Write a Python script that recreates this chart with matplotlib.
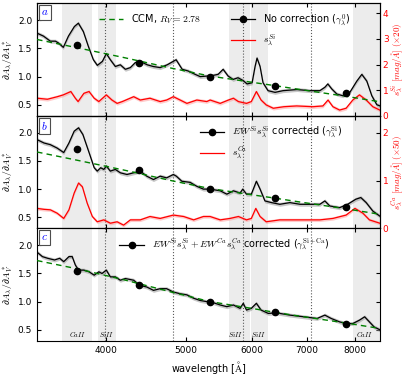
import matplotlib
matplotlib.use('Agg')
import matplotlib.pyplot as plt
from matplotlib.lines import Line2D
from matplotlib.ticker import FixedLocator, NullLocator, FormatStrFormatter

plt.rcParams['mathtext.fontset'] = 'cm'
plt.rcParams['font.family'] = ['DejaVu Sans']

# ---- data (wavelength in Angstrom) ----
wl_a = [3303, 3360, 3425, 3474, 3502, 3551, 3602, 3662, 3703, 3755, 3807, 3861, 3904, 3959,
        4003, 4048, 4105, 4162, 4221, 4280, 4340, 4400, 4486, 4561, 4651, 4743, 4822, 4862,
        4945, 5028, 5127, 5199, 5301, 5345, 5465, 5542, 5620, 5698, 5777, 5859, 5925, 6008,
        6058, 6091, 6143, 6194, 6281, 6405, 6548, 6807, 7058, 7256, 7358, 7419, 7502, 7608,
        7735, 7888, 8043, 8156, 8270, 8386, 8504, 8575]
gamma_a = [1.77, 1.72, 1.63, 1.63, 1.60, 1.52, 1.72, 1.89, 1.95, 1.80, 1.54, 1.30, 1.20, 1.27,
           1.41, 1.30, 1.18, 1.21, 1.13, 1.16, 1.25, 1.27, 1.21, 1.18, 1.16, 1.21, 1.27, 1.30,
           1.13, 1.10, 1.04, 1.00, 1.01, 1.01, 1.04, 1.13, 1.01, 0.95, 0.98, 0.93, 0.87, 0.89,
           1.18, 1.33, 1.18, 0.89, 0.75, 0.72, 0.75, 0.77, 0.75, 0.75, 0.81, 0.87, 0.78, 0.69,
           0.66, 0.72, 0.92, 1.04, 0.92, 0.66, 0.50, 0.48]

wl_sa = [3303, 3397, 3493, 3551, 3626, 3672, 3700, 3760, 3815, 3870, 3920, 4003, 4066, 4125,
         4185, 4320, 4400, 4520, 4651, 4735, 4825, 4917, 5010, 5150, 5295, 5345, 5497, 5625,
         5703, 5783, 5915, 5995, 6080, 6160, 6249, 6373, 6563, 6801, 7117, 7318, 7423, 7525,
         7666, 7806, 7953, 8102, 8256, 8410, 8575]
s_si = [0.69, 0.65, 0.75, 0.82, 0.95, 0.69, 0.56, 0.88, 0.95, 0.69, 0.56, 0.82, 0.62, 0.49,
        0.56, 0.75, 0.62, 0.69, 0.56, 0.62, 0.75, 0.62, 0.49, 0.62, 0.56, 0.62, 0.49, 0.62,
        0.69, 0.56, 0.49, 0.56, 0.95, 0.62, 0.43, 0.30, 0.36, 0.39, 0.36, 0.39, 0.62, 0.36,
        0.23, 0.30, 0.62, 0.82, 0.62, 0.36, 0.23]

wl_b = [3300, 3365, 3425, 3490, 3555, 3607, 3660, 3705, 3750, 3815, 3870, 3903, 3940, 3975,
        4003, 4048, 4105, 4162, 4240, 4320, 4400, 4480, 4565, 4651, 4735, 4825, 4865, 4940,
        5056, 5150, 5245, 5345, 5497, 5600, 5703, 5810, 5853, 5915, 5995, 6058, 6080, 6143,
        6227, 6343, 6490, 6675, 6870, 7058, 7256, 7358, 7460, 7666, 7840, 8020, 8133, 8256,
        8410, 8575]
gamma_b = [1.88, 1.82, 1.79, 1.73, 1.65, 1.82, 2.03, 2.09, 1.97, 1.65, 1.38, 1.32, 1.38, 1.35,
           1.41, 1.32, 1.35, 1.29, 1.26, 1.29, 1.32, 1.23, 1.17, 1.23, 1.20, 1.26, 1.23, 1.14,
           1.12, 1.05, 1.00, 1.00, 0.97, 0.91, 0.97, 0.93, 1.00, 0.91, 0.91, 1.08, 1.14, 1.00,
           0.79, 0.76, 0.73, 0.76, 0.73, 0.73, 0.73, 0.79, 0.70, 0.67, 0.73, 0.82, 0.85, 0.76,
           0.61, 0.52]

wl_sb = [3300, 3365, 3425, 3490, 3555, 3607, 3660, 3705, 3745, 3795, 3850, 3903, 3975, 4048,
         4125, 4200, 4280, 4400, 4520, 4651, 4825, 4965, 5105, 5245, 5345, 5497, 5650, 5783,
         5915, 5995, 6070, 6143, 6249, 6490, 6870, 7256, 7525, 7806, 8000, 8180, 8330, 8575]
s_ca = [0.42, 0.40, 0.39, 0.32, 0.21, 0.39, 0.74, 0.95, 0.87, 0.53, 0.25, 0.14, 0.18, 0.11,
        0.14, 0.07, 0.18, 0.18, 0.25, 0.21, 0.28, 0.25, 0.18, 0.25, 0.25, 0.18, 0.21, 0.25,
        0.18, 0.21, 0.42, 0.25, 0.14, 0.18, 0.18, 0.18, 0.21, 0.28, 0.42, 0.32, 0.18, 0.11]

wl_c = [3300, 3350, 3400, 3465, 3515, 3555, 3607, 3640, 3672, 3705, 3760, 3815, 3870, 3920,
        3955, 4003, 4048, 4105, 4162, 4221, 4320, 4390, 4480, 4565, 4651, 4735, 4825, 4917,
        5010, 5105, 5199, 5295, 5345, 5497, 5600, 5703, 5810, 5862, 5915, 5995, 6080, 6160,
        6285, 6430, 6675, 6940, 7200, 7358, 7490, 7666, 7806, 7953, 8102, 8220, 8330, 8440,
        8575]
gamma_c = [1.88, 1.80, 1.77, 1.74, 1.77, 1.71, 1.80, 1.80, 1.65, 1.56, 1.56, 1.53, 1.47, 1.53,
           1.50, 1.56, 1.44, 1.44, 1.38, 1.41, 1.38, 1.29, 1.26, 1.20, 1.23, 1.23, 1.17, 1.14,
           1.12, 1.06, 1.02, 1.00, 1.00, 0.94, 0.91, 0.94, 0.88, 0.97, 0.85, 0.88, 0.97, 0.85,
           0.79, 0.80, 0.76, 0.73, 0.70, 0.76, 0.70, 0.64, 0.61, 0.61, 0.67, 0.73, 0.64, 0.55,
           0.50]

# binned points
wl_dots = [3693, 4386, 5345, 6405, 7800]
dots_a = [1.57, 1.24, 1.00, 0.83, 0.70]
dots_b = [1.72, 1.34, 1.01, 0.85, 0.69]
dots_c = [1.55, 1.29, 1.00, 0.81, 0.61]

# CCM curves
wl_ccm = [3300, 3700, 4200, 4800, 5345, 6000, 6400, 6800, 7800, 8600]
ccm_ab = [1.66, 1.51, 1.34, 1.15, 1.01, 0.90, 0.84, 0.78, 0.65, 0.55]
ccm_c = [1.73, 1.58, 1.39, 1.17, 1.00, 0.88, 0.81, 0.75, 0.62, 0.52]

# spectral features
bands = [(3540, 3850), (3915, 4115), (5637, 5974), (5990, 6280), (7955, 8600)]
dotted = [3992, 4822, 5862, 7078]
feat_names = ['CaII', 'SiII', 'SiII', 'SiII', 'CaII']
feat_wl = [3693, 4010, 5730, 6110, 8220]

xticks = [4000, 5000, 6000, 7000, 8000]

# ---- figure ----
fig = plt.figure(figsize=(4.07, 3.75), dpi=100)
left, width, h, bottom = 0.0909, 0.8428, 0.3, 0.0907
ax_c = fig.add_axes([left, bottom, width, h])
ax_b = fig.add_axes([left, bottom + h, width, h], sharex=ax_c)
ax_a = fig.add_axes([left, bottom + 2 * h, width, h], sharex=ax_c)

gband = 0.035


def background(ax):
    for lo, hi in bands:
        ax.axvspan(lo, hi, color='#ececec', lw=0, zorder=0)
    for w in dotted:
        ax.axvline(w, color='0.35', ls=':', lw=0.8, zorder=1)


def setup(ax, label):
    ax.set_xscale('log')
    ax.set_xlim(3300, 8580)
    ax.set_ylim(0.3, 2.3)
    ax.set_yticks([0.5, 1.0, 1.5, 2.0])
    ax.xaxis.set_major_locator(FixedLocator(xticks))
    ax.xaxis.set_minor_locator(NullLocator())
    ax.xaxis.set_major_formatter(FormatStrFormatter('%d'))
    ax.tick_params(direction='in', labelsize=6.5, length=3, top=True)
    ax.set_ylabel(r'$\partial A_\lambda/\partial A_V^*$', fontsize=7, labelpad=2)
    ax.text(0.012, 0.965, '$' + label + '$', transform=ax.transAxes, color='blue',
            fontsize=8, ha='left', va='top',
            bbox=dict(boxstyle='square,pad=0.2', fc='white', ec='0.3', lw=0.8), zorder=10)


def curve(ax, wl, y, ccm):
    ax.plot(wl_ccm, ccm, ls='--', color='green', lw=1.0, dashes=(4, 3), zorder=4)
    lo = [v - gband for v in y]
    hi = [v + gband for v in y]
    ax.fill_between(wl, lo, hi, color='0.6', alpha=0.55, lw=0, zorder=2)
    ax.plot(wl, y, color='k', lw=0.9, zorder=3)


def twin(ax, wl, s, top, ticks, lab, band):
    tw = ax.twinx()
    background(tw)
    tw.fill_between(wl, [v - band for v in s], [v + band for v in s],
                    color='#ff9999', alpha=0.5, lw=0, zorder=2)
    tw.plot(wl, s, color='red', lw=0.9, zorder=3)
    tw.set_ylim(0, top)
    tw.set_yticks(ticks)
    tw.tick_params(direction='in', labelsize=6.5, length=3, labelcolor='red', pad=2)
    tw.set_ylabel(lab, color='red', fontsize=6.5, labelpad=0.5)
    tw.set_zorder(ax.get_zorder() - 1)
    ax.patch.set_visible(False)
    return tw


# panel a
setup(ax_a, 'a')
tw_a = twin(ax_a, wl_sa, s_si, 4.37, [0, 1, 2, 3, 4],
            r'$s_\lambda^{Si}$ $[mag/\AA]$ $(\times 20)$', 0.07)
curve(ax_a, wl_a, gamma_a, ccm_ab)
ax_a.plot(wl_dots, dots_a, 'o', color='k', ms=4.5, zorder=6)
plt.setp(ax_a.get_xticklabels(), visible=False)

leg1 = ax_a.legend([Line2D([], [], ls='--', color='green', lw=1.0, dashes=(4, 3))],
                   [r'CCM, $R_V=2.78$'], loc='upper left', bbox_to_anchor=(0.155, 1.0),
                   frameon=False, fontsize=7, handlelength=2.5)
ax_a.add_artist(leg1)
ax_a.legend([Line2D([], [], color='k', marker='o', ms=4.5, lw=0.9),
             Line2D([], [], color='red', lw=0.9)],
            [r'No correction ($\gamma_\lambda^0$)', r'$s_\lambda^{Si}$'],
            loc='upper left', bbox_to_anchor=(0.54, 1.0), frameon=False, fontsize=7,
            handlelength=2.5)

# panel b
setup(ax_b, 'b')
tw_b = twin(ax_b, wl_sb, s_ca, 2.35, [0, 1, 2],
            r'$s_\lambda^{Ca}$ $[mag/\AA]$ $(\times 50)$', 0.035)
curve(ax_b, wl_b, gamma_b, ccm_ab)
ax_b.plot(wl_dots, dots_b, 'o', color='k', ms=4.5, zorder=6)
plt.setp(ax_b.get_xticklabels(), visible=False)
ax_b.legend([Line2D([], [], color='k', marker='o', ms=4.5, lw=0.9),
             Line2D([], [], color='red', lw=0.9)],
            [r'$EW^{Si}s_\lambda^{Si}$ corrected ($\gamma_\lambda^{\rm Si}$)',
             r'$s_\lambda^{Ca}$'],
            loc='upper left', bbox_to_anchor=(0.45, 1.0), frameon=False, fontsize=7,
            handlelength=2.5)

# panel c
setup(ax_c, 'c')
background(ax_c)
ax_c.tick_params(right=True)
curve(ax_c, wl_c, gamma_c, ccm_c)
ax_c.plot(wl_dots, dots_c, 'o', color='k', ms=4.5, zorder=6)
ax_c.legend([Line2D([], [], color='k', marker='o', ms=4.5, lw=0.9)],
            [r'$EW^{Si}s_\lambda^{Si}+EW^{Ca}s_\lambda^{Ca}$ corrected ($\gamma_\lambda^{\rm Si+Ca}$)'],
            loc='upper left', bbox_to_anchor=(0.215, 1.0), frameon=False, fontsize=7,
            handlelength=2.5)
for name, w in zip(feat_names, feat_wl):
    ax_c.text(w, 0.33, '$' + name + '$', fontsize=5, ha='center', va='bottom')
ax_c.set_xlabel(r'wavelength [$\rm\AA$]', fontsize=7, labelpad=3)

fig.savefig('out.png', dpi=100)
